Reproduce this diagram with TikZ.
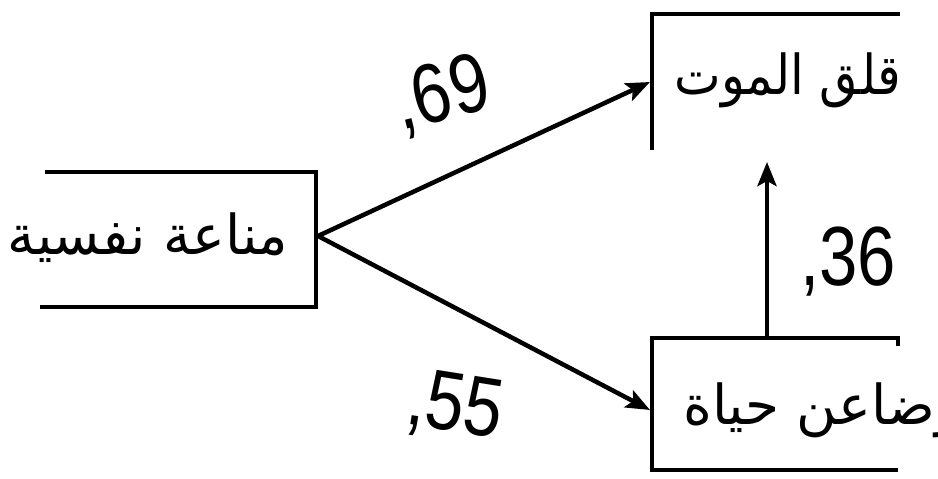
\documentclass[tikz,border=0pt]{standalone}
\usepackage{fontspec}
\setmainfont{Liberation Sans}
\newfontfamily\arabicfont[Script=Arabic]{DejaVu Sans}
\TeXXeTstate=1
\usetikzlibrary{arrows.meta,positioning}
\tikzset{
  arlabel/.style={inner sep=0pt, font=\arabicfont\fontsize{55pt}{60pt}\selectfont},
  coef/.style={inner sep=0pt, font=\fontsize{84pt}{84pt}\selectfont}
}
\newcommand{\coefnum}[2]{\rotatebox{#1}{\scalebox{0.82}[1]{#2}}}
\begin{document}
\begin{tikzpicture}[x=1pt, y=-1pt, line width=4.5pt, >={Stealth[length=24pt,width=19pt,inset=5pt]}]
        \useasboundingbox (0,0) rectangle (938,479);
        % boxes (cropped at the edges)
        \draw (45,172) -- (316,172) -- (316,307) -- (40,307);
        \draw (900,14) -- (652,14) -- (652,150);
        \draw (898,346) -- (898,338) -- (652,338) -- (652,470) -- (898,470);

        \node[arlabel] (imm) at (148,238) {\beginR مناعة نفسية\endR};
        \node[arlabel, xscale=0.9] (anx) at (788,80) {\beginR قلق الموت\endR};
        \node[arlabel, anchor=west] (sat) at (681,410) {\beginR رضاعن حياة\endR};

        \coordinate (immR) at (318,236);
        \coordinate (anxL) at (650,82);
        \coordinate (anxB) at (767,162);
        \coordinate (satL) at (650,410);
        \coordinate (satT) at (767,338);

        % paths
        \draw[->] (immR) -- (anxL);
        \draw[->] (immR) -- (satL);
        \draw[->] (satT) -- (anxB);

        \node[coef] (c69) at (442,96) {\coefnum{14}{,69}};
        \node[coef] (c55) at (455,408) {\coefnum{-9}{,55}};
        \node[coef] (c36) at (848,262) {\coefnum{0}{,36}};
    \end{tikzpicture}
\end{document}
